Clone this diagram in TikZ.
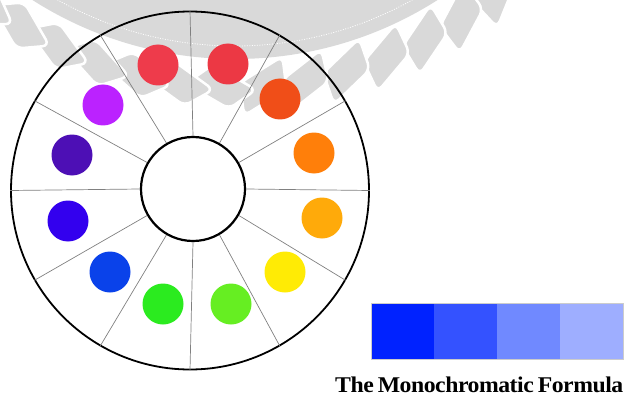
\documentclass[tikz,border=0pt]{standalone}
\usepackage{fontspec}
\usepackage{graphicx}
\usepackage{tikz}
\usepackage{xcolor}
\newfontfamily\titlefont{Liberation Serif}[LetterSpace=-2]
\definecolor{sealgray}{HTML}{D9D9D9}
\definecolor{redA}{HTML}{EE3B4B}
\definecolor{redB}{HTML}{EC3844}
\definecolor{redorange}{HTML}{F04E18}
\definecolor{orangeA}{HTML}{FF7F0A}
\definecolor{amber}{HTML}{FFAA0A}
\definecolor{yellowA}{HTML}{FFEB05}
\definecolor{lime}{HTML}{66EE22}
\definecolor{greenA}{HTML}{2BEB1F}
\definecolor{blueA}{HTML}{0A42EA}
\definecolor{blueviolet}{HTML}{3300EE}
\definecolor{indigo}{HTML}{4D0FB5}
\definecolor{purpleA}{HTML}{BB22FF}
\definecolor{tintA}{HTML}{0022FF}
\definecolor{tintB}{HTML}{3452FF}
\definecolor{tintC}{HTML}{7089FF}
\definecolor{tintD}{HTML}{9EAEFF}

\begin{document}
\begin{tikzpicture}[x=1pt,y=1pt,
  seal/.style={fill=sealgray},
  spoke/.style={draw=black!50,line width=0.7pt},
  ring/.style={circle,draw=black,inner sep=0pt},
  dot/.style={circle,inner sep=0pt,minimum size=41pt},
  swatch/.style={anchor=south west,inner sep=0pt,minimum width=63pt,
                 minimum height=55pt}]
  \useasboundingbox (0,0) rectangle (626,397);

  % faint seal behind the wheel
  \begin{scope}
    \clip (0,0) rectangle (626,397);
    \fill[seal] (235,715) circle (377);
    \draw[white,line width=0.8pt,dash pattern=on 1pt off 1.5pt] (235,715) circle (364);
    \foreach \a in {-50,-56,...,-128} {
      \pgfmathsetmacro\tilt{\a+90+28*sign(\a+90)}
      \begin{scope}[shift={(235,715)},shift={(\a:405)},rotate=\tilt]
        \filldraw[seal,draw=white,line width=2.5pt,rounded corners=7pt]
          (-32,-15) -- (18,-15) -- (32,15) -- (-18,15) -- cycle;
      \end{scope}
    }
  \end{scope}

  % wheel
  \node[ring,line width=1.8pt,minimum size=358pt] (rim) at (190,206.5) {};
  \node[ring,line width=2.2pt,minimum size=104pt,fill=white] (hub) at (193,208) {};
  \foreach \a in {0,30,...,330}
    \draw[spoke] (hub.\a) -- (rim.\a);

  \foreach \n/\x/\y/\c in {d1/158/332/redA, d2/228/333/redB,
      d3/280/298/redorange, d4/314/244/orangeA, d5/322/179/amber,
      d6/285/125/yellowA, d7/231/93/lime, d8/163/93/greenA,
      d9/110/125/blueA, d10/68/176/blueviolet, d11/72/242/indigo,
      d12/103/292/purpleA}
    \node[dot,fill=\c] (\n) at (\x,\y) {};

  % monochromatic strip
  \foreach \i/\c in {0/tintA,1/tintB,2/tintC,3/tintD}
    \node[swatch,fill=\c] (sw\i) at (371+63*\i,38) {};
  \draw[black!20,line width=0.6pt] (sw0.south west) rectangle (sw3.north east);

  \node[anchor=base west,inner sep=0pt] (title) at (335,4.7)
    {\resizebox{288pt}{15.6pt}{\titlefont\bfseries The\,Monochromatic\,Formula}};
\end{tikzpicture}
\end{document}
